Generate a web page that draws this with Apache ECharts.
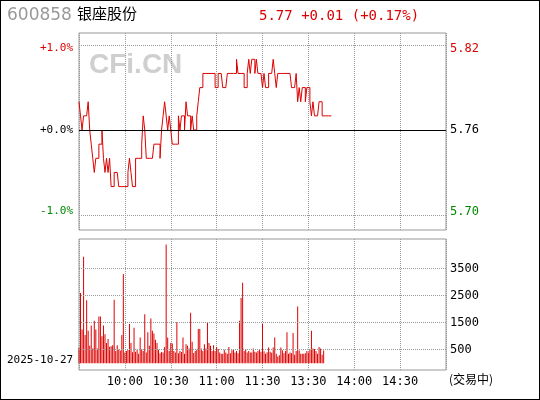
<!DOCTYPE html>
<html><head><meta charset="utf-8">
<script src="https://cdn.jsdelivr.net/npm/echarts@6/dist/echarts.min.js"></script>
<style>html,body{margin:0;padding:0;background:#fff}#c{width:538px;height:398px;border:1px solid #000}</style>
</head><body><div id="c"></div>
<script>
const stockCode = "600858";
const stockName = "银座股份";
const prevClose = 5.76;
const quoteText = "5.77 +0.01 (+0.17%)";
const dateText = "2025-10-27";
const timeLabels = ["10:00","10:30","11:00","11:30","13:30","14:00","14:30"];
const timeTicks = [30,60,90,120,150,180,210];
// price in cents above previous close, one per minute from 9:30 (13:00 = minute 120)
const priceCents = [2,1,0,1,1,1,2,0,-1,-2,-3,-2,-2,-1,-1,0,-2,-3,-2,-3,-2,-4,-4,-3,-3,-3,-4,-4,-4,-4,-4,-4,-3,-2,-3,-4,-4,-2,-2,-2,-2,-1,1,0,-2,-2,-2,-2,-2,-1,-1,-1,-1,-2,0,1,2,1,0,1,0,-1,-1,-1,-1,1,0,1,1,0,2,1,1,0,1,0,0,1,2,3,3,4,4,4,4,4,4,4,4,3,3,4,4,4,3,3,3,4,4,4,4,4,4,5,4,4,4,4,3,3,4,5,4,5,5,4,5,4,4,4,3,4,3,3,4,4,4,5,4,3,4,4,4,4,4,4,4,4,4,3,3,3,4,2,3,2,3,3,2,3,3,2,1,2,1,1,1,2,2,1,1,1,1,1,1,1];
const volumes = [315,2350,1000,3690,800,2080,950,400,1150,300,1320,1000,300,1480,1480,750,1150,820,500,650,360,380,420,2100,200,420,260,220,800,3050,150,200,240,1200,500,160,1060,180,250,100,700,280,200,1560,150,900,400,1410,950,850,620,500,250,120,170,150,350,4150,700,200,500,480,200,150,1280,120,200,170,700,100,450,400,300,1620,550,130,200,250,1020,1020,300,200,450,300,1240,500,400,200,420,200,350,280,150,100,100,250,150,100,350,120,230,280,150,200,120,1320,2170,2730,200,280,150,200,150,150,300,180,150,200,250,180,1200,190,100,160,330,180,140,330,700,100,0,50,330,230,120,200,900,100,150,120,870,60,200,1850,220,100,100,100,120,200,150,270,950,300,280,200,100,350,300,60,220];
const volLabels = [500,1500,2500,3500];

const pct = 0.01*prevClose;
const priceData = priceCents.map((c,i)=>[i, +(prevClose + c*0.01).toFixed(2)]);
const volBase = -250;
const chart = echarts.init(document.getElementById('c'));
const font = '"DejaVu Sans Mono", monospace';
const dotted = {type:'dotted', color:'#999', width:1};
chart.setOption({
  animation:false,
  graphic:[
    {type:'text', left:6, top:6, style:{text:stockCode, font:'17px "DejaVu Sans"', fill:'#999'}},
    {type:'text', left:76, top:5, style:{text:stockName, font:'15px "Noto Sans CJK SC"', fill:'#000'}},
    {type:'text', left:258, top:8, style:{text:quoteText, font:'14px '+font, fill:'#d00'}},
    {type:'text', left:88, top:50, style:{text:'CFi.CN', font:'bold 28px Arial, "Liberation Sans"', fill:'#cfcfcf'}},
    {type:'text', left:6, top:354, style:{text:dateText, font:'11px '+font, fill:'#000'}},
    {type:'text', left:448, top:372, style:{text:'(交易中)', font:'12px "Noto Sans CJK SC"', fill:'#000'}}
  ],
  grid:[
    {left:78, right:93, top:32, height:197, show:true, borderColor:'#999', borderWidth:1},
    {left:78, right:93, top:238, height:131, show:true, borderColor:'#999', borderWidth:1}
  ],
  xAxis:[
    {type:'value', gridIndex:0, min:0, max:240, interval:30, axisLine:{show:false}, axisTick:{show:false}, axisLabel:{show:false}, splitLine:{lineStyle:dotted}},
    {type:'value', gridIndex:1, min:0, max:240, interval:30, axisLine:{show:false}, axisTick:{show:false}, splitLine:{lineStyle:dotted},
      axisLabel:{margin:6, color:'#000', fontSize:12, fontFamily:'DejaVu Sans Mono',
        formatter:v=>{const i=timeTicks.indexOf(v);return i>=0?timeLabels[i]:'';}}}
  ],
  yAxis:[
    {type:'value', gridIndex:0, min:5.6893, max:5.8286, position:'left', axisLine:{show:false}, axisTick:{show:false}, splitLine:{show:false},
      axisLabel:{customValues:[prevClose-pct,prevClose,prevClose+pct], fontFamily:'DejaVu Sans Mono', fontSize:11, margin:6,
        formatter:v=>{const p=Math.round((v-prevClose)/pct); return p>0?'{r|+1.0%}':p<0?'{g|-1.0%}':'{k|+0.0%}';},
        rich:{r:{color:'#d00',fontFamily:'DejaVu Sans Mono',fontSize:11},g:{color:'#080',fontFamily:'DejaVu Sans Mono',fontSize:11},k:{color:'#000',fontFamily:'DejaVu Sans Mono',fontSize:11}}}},
    {type:'value', gridIndex:0, min:5.6893, max:5.8286, position:'right', axisLine:{show:false}, axisTick:{show:false}, splitLine:{show:false},
      axisLabel:{customValues:[prevClose-pct,prevClose,prevClose+pct], fontFamily:'DejaVu Sans Mono', fontSize:12, margin:4,
        formatter:v=>{const s=(Math.round(v*100)/100).toFixed(2); const p=Math.round((v-prevClose)/pct); return p>0?'{r|'+s+'}':p<0?'{g|'+s+'}':'{k|'+s+'}';},
        rich:{r:{color:'#d00',fontFamily:'DejaVu Sans Mono',fontSize:12},g:{color:'#080',fontFamily:'DejaVu Sans Mono',fontSize:12},k:{color:'#000',fontFamily:'DejaVu Sans Mono',fontSize:12}}}},
    {type:'value', gridIndex:1, min:volBase, max:4600, position:'right', axisLine:{show:false}, axisTick:{show:false}, splitLine:{show:false},
      axisLabel:{customValues:volLabels, fontFamily:'DejaVu Sans Mono', fontSize:12, color:'#000', margin:4, formatter:v=>String(v)}}
  ],
  series:[
    {type:'line', xAxisIndex:0, yAxisIndex:0, data:priceData, step:'end', symbol:'none', lineStyle:{color:'#d00', width:1},
      markLine:{silent:true, symbol:'none', label:{show:false}, data:[
        {yAxis:prevClose, lineStyle:{type:'solid', color:'#000', width:1}},
        {yAxis:prevClose+pct, lineStyle:dotted},
        {yAxis:prevClose-pct, lineStyle:dotted}]}},
    {type:'bar', xAxisIndex:1, yAxisIndex:2, stack:'v', stackStrategy:'all', data:volumes.map((v,i)=>[i,volBase]), barWidth:1, itemStyle:{color:'transparent'}, silent:true,
      markLine:{silent:true, symbol:'none', label:{show:false}, lineStyle:dotted, data:volLabels.map(v=>({yAxis:v}))}},
    {type:'bar', xAxisIndex:1, yAxisIndex:2, stack:'v', stackStrategy:'all', data:volumes.map((v,i)=>[i,v-volBase]), barWidth:1, itemStyle:{color:'#d00'}}
  ]
});
</script></body></html>
